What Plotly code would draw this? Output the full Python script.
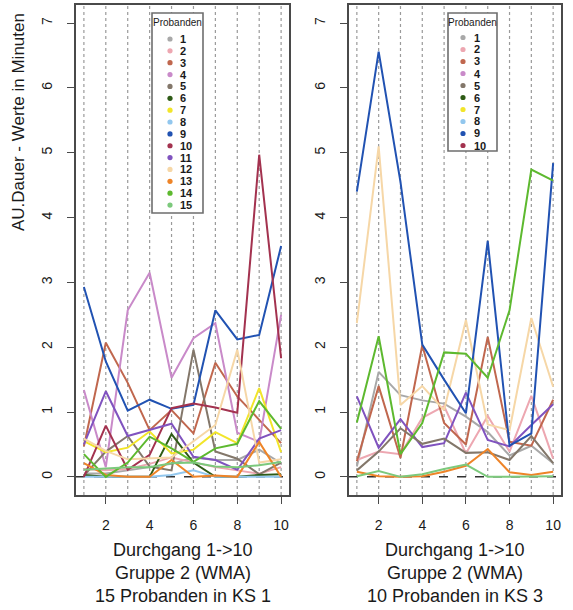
import plotly.graph_objects as go

# ---------------- data ----------------
durchgang = [1, 2, 3, 4, 5, 6, 7, 8, 9, 10]
x_ticks = [2, 4, 6, 8, 10]
y_ticks = [0, 1, 2, 3, 4, 5, 6, 7]

palette = ["#a8a8a8", "#eda7b1", "#c0674e", "#c98ac9", "#83776a",
           "#2e5b16", "#f2e52a", "#92c7ee", "#2152b2", "#a3324f",
           "#8053bf", "#f6d7a7", "#ee8428", "#5db92f", "#7cc97c"]

# KS 1 : 15 Probanden (colour = palette[i])
ks1_p1 = [0.05, 0.05, 0.10, 0.15, 0.20, 0.30, 0.26, 0.26, 0.42, 0.21]
ks1_p2 = [0.12, 0.10, 0.12, 0.20, 0.30, 0.22, 0.15, 0.10, 0.05, 0.15]
ks1_p3 = [0.47, 2.07, 1.45, 0.72, 1.03, 0.67, 1.76, 1.24, 0.88, 0.52]
ks1_p4 = [1.34, 0.15, 2.57, 3.15, 1.53, 2.14, 2.37, 0.68, 0.54, 2.50]
ks1_p5 = [0.02, 0.39, 0.63, 0.16, 0.10, 1.96, 0.39, 0.28, 0.04, 0.22]
ks1_p6 = [0.03, 0.00, 0.00, 0.00, 0.66, 0.22, 0.00, 0.00, 0.03, 0.04]
ks1_p7 = [0.55, 0.38, 0.45, 0.70, 0.36, 0.42, 0.69, 0.52, 1.37, 0.38]
ks1_p8 = [0.00, 0.00, 0.00, 0.00, 0.03, 0.10, 0.00, 0.00, 0.00, 0.00]
ks1_p9 = [2.93, 1.78, 1.02, 1.19, 1.05, 1.11, 2.57, 2.12, 2.19, 3.56]
ks1_p10 = [0.00, 0.79, 0.11, 0.34, 1.06, 1.13, 1.07, 0.99, 4.97, 1.83]
ks1_p11 = [0.50, 1.32, 0.63, 0.73, 0.82, 0.31, 0.26, 0.11, 0.59, 0.72]
ks1_p12 = [0.59, 0.40, 0.27, 0.28, 0.30, 0.55, 0.80, 1.96, 0.22, 0.27]
ks1_p13 = [0.21, 0.03, 0.00, 0.00, 0.26, 0.00, 0.02, 0.00, 0.54, 0.00]
ks1_p14 = [0.35, 0.00, 0.22, 0.62, 0.44, 0.23, 0.44, 0.51, 1.17, 0.74]
ks1_p15 = [0.11, 0.13, 0.15, 0.15, 0.21, 0.22, 0.16, 0.15, 0.18, 0.23]
ks1_series = [ks1_p1, ks1_p2, ks1_p3, ks1_p4, ks1_p5, ks1_p6, ks1_p7, ks1_p8,
              ks1_p9, ks1_p10, ks1_p11, ks1_p12, ks1_p13, ks1_p14, ks1_p15]
ks1_colors = palette[:15]

# KS 3 : 10 Probanden (line colours as drawn in the original)
ks3_gray = [0.16, 1.62, 1.26, 1.18, 1.13, 0.93, 0.69, 0.33, 0.48, 0.21]
ks3_pink = [0.26, 0.39, 0.35, 0.91, 1.09, 0.36, 0.94, 0.39, 1.25, 0.28]
ks3_sienna = [0.24, 1.40, 0.29, 2.03, 0.83, 0.50, 2.16, 0.54, 0.48, 1.19]
ks3_purple = [1.24, 0.45, 0.89, 0.46, 0.52, 1.30, 0.57, 0.47, 0.80, 1.12]
ks3_taupe = [0.10, 0.39, 0.75, 0.51, 0.59, 0.37, 0.38, 0.26, 0.63, 0.21]
ks3_wheat = [2.37, 5.10, 1.11, 1.40, 1.03, 2.42, 0.81, 0.72, 2.45, 1.39]
ks3_orange = [0.08, 0.01, 0.00, 0.01, 0.08, 0.17, 0.43, 0.07, 0.03, 0.08]
ks3_lgreen = [0.01, 0.09, 0.00, 0.04, 0.12, 0.19, 0.00, 0.00, 0.00, 0.01]
ks3_blue = [4.40, 6.56, 4.55, 2.04, 1.50, 0.98, 3.64, 0.48, 0.67, 4.84]
ks3_green = [0.84, 2.17, 0.35, 0.83, 1.92, 1.90, 1.53, 2.57, 4.74, 4.57]
ks3_series = [ks3_gray, ks3_pink, ks3_sienna, ks3_purple, ks3_taupe,
              ks3_wheat, ks3_orange, ks3_lgreen, ks3_blue, ks3_green]
ks3_colors = [palette[0], palette[1], palette[2], palette[10], palette[4],
              palette[11], palette[12], palette[14], palette[8], palette[13]]

legend1_labels = [str(i) for i in range(1, 16)]
legend2_labels = [str(i) for i in range(1, 11)]

x_title_1 = ["Durchgang 1->10", "Gruppe 2 (WMA)", "15 Probanden in KS 1"]
x_title_2 = ["Durchgang 1->10", "Gruppe 2 (WMA)", "10 Probanden in KS 3"]
y_title = "AU.Dauer - Werte in Minuten"

# ---------------- layout helpers ----------------
W, H = 573, 610
FONT = "Liberation Sans, Arial, Helvetica, sans-serif"
TXT = "#1a1a1a"


def px(x):
    return x / W


def py(y):
    return 1 - y / H


fig = go.Figure()

for vals, col in zip(ks1_series, ks1_colors):
    fig.add_trace(go.Scatter(x=durchgang, y=vals, mode="lines",
                             line=dict(color=col, width=2),
                             showlegend=False, xaxis="x", yaxis="y"))
for vals, col in zip(ks3_series, ks3_colors):
    fig.add_trace(go.Scatter(x=durchgang, y=vals, mode="lines",
                             line=dict(color=col, width=2),
                             showlegend=False, xaxis="x2", yaxis="y2"))

axis_common = dict(showline=True, mirror=True, linecolor="#4a4a4a", linewidth=1.6,
                   ticks="outside", ticklen=7, tickcolor="#4a4a4a", tickwidth=1.2,
                   showgrid=False, zeroline=False,
                   tickfont=dict(family=FONT, size=14, color=TXT))

fig.update_layout(
    width=W, height=H,
    margin=dict(l=0, r=0, t=0, b=0),
    paper_bgcolor="white", plot_bgcolor="white",
    showlegend=False,
    xaxis=dict(domain=[px(76), px(289)], range=[0.64, 10.36], tickvals=x_ticks,
               anchor="y", ticklabelstandoff=9, **axis_common),
    yaxis=dict(domain=[py(495), py(5)], range=[-0.28, 7.28], tickvals=y_ticks,
               tickangle=-90, anchor="x", ticklabelstandoff=10, **axis_common),
    xaxis2=dict(domain=[px(349), px(561)], range=[0.64, 10.36], tickvals=x_ticks,
                anchor="y2", ticklabelstandoff=9, **axis_common),
    yaxis2=dict(domain=[py(495), py(5)], range=[-0.28, 7.28], tickvals=y_ticks,
                tickangle=-90, anchor="x2", ticklabelstandoff=10, **axis_common),
)

shapes = []
annotations = []
for xa, ya in (("x", "y"), ("x2", "y2")):
    for d in durchgang:
        shapes.append(dict(type="line", xref=xa, yref=ya + " domain", x0=d, x1=d,
                           y0=0, y1=1, layer="below",
                           line=dict(color="#9a9a9a", width=1.2, dash="dot")))
    shapes.append(dict(type="line", xref=xa + " domain", yref=ya, x0=0, x1=1,
                       y0=0, y1=0, layer="below",
                       line=dict(color="#333333", width=1.5, dash="dash")))

# axis titles
for cx, lines in ((182.5, x_title_1), (455, x_title_2)):
    for k, t in enumerate(lines):
        annotations.append(dict(text=t, xref="paper", yref="paper",
                                x=px(cx), y=py(550 + 23 * k), xanchor="center",
                                yanchor="middle", showarrow=False,
                                font=dict(family=FONT, size=18, color=TXT)))
annotations.append(dict(text=y_title, xref="paper", yref="paper", x=px(19),
                        y=py(122), textangle=-90, xanchor="center", yanchor="middle",
                        showarrow=False, font=dict(family=FONT, size=17, color=TXT)))


def add_legend(x0, x1, y0, y1, title_y, dot_x, lab_x, first_y, step, labels, colors):
    shapes.append(dict(type="rect", xref="paper", yref="paper", x0=px(x0), x1=px(x1),
                       y0=py(y1), y1=py(y0), fillcolor="white",
                       line=dict(color="#6e6e6e", width=1.6), layer="above"))
    annotations.append(dict(text="Probanden", xref="paper", yref="paper",
                            x=px((x0 + x1) / 2), y=py(title_y), xanchor="center",
                            yanchor="middle", showarrow=False,
                            font=dict(family=FONT, size=10, color=TXT)))
    for i, (lab, col) in enumerate(zip(labels, colors)):
        yy = first_y + step * i
        shapes.append(dict(type="circle", xref="paper", yref="paper",
                           x0=px(dot_x - 2.6), x1=px(dot_x + 2.6),
                           y0=py(yy + 2.6), y1=py(yy - 2.6),
                           fillcolor=col, line=dict(width=0), layer="above"))
        annotations.append(dict(text="<b>" + lab + "</b>", xref="paper", yref="paper",
                                x=px(lab_x), y=py(yy), xanchor="left",
                                yanchor="middle", showarrow=False,
                                font=dict(family=FONT, size=11, color=TXT)))


add_legend(152, 203, 13, 213, 23, 170, 178, 39, 11.86, legend1_labels, palette[:15])
add_legend(448, 497, 13, 151, 23, 463, 472, 37.5, 12.0, legend2_labels, palette[:10])

fig.update_layout(shapes=shapes, annotations=annotations)
fig.write_html("out.html")
